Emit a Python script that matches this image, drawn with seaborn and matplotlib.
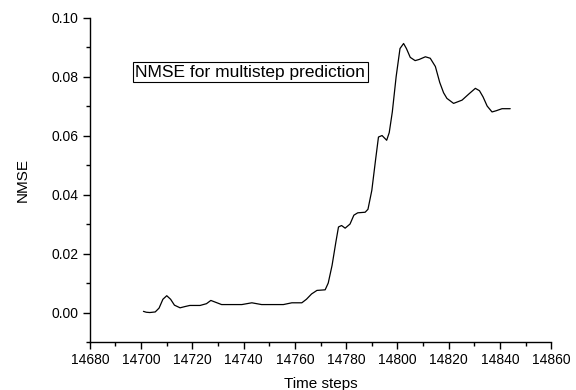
import matplotlib
matplotlib.use("Agg")
import matplotlib.pyplot as plt
from matplotlib.ticker import MultipleLocator
import seaborn as sns
import pandas as pd

time_steps = [14700.9, 14702.0, 14703.4, 14705.5, 14707.0, 14708.5, 14710.0, 14711.5,
              14713.0, 14715.2, 14717.0, 14719.0, 14723.0, 14725.5, 14727.2, 14729.0,
              14731.4, 14735.0, 14739.3, 14743.2, 14747.0, 14751.0, 14755.5, 14758.8,
              14762.7, 14764.5, 14766.5, 14768.6, 14771.8, 14773.0, 14774.5, 14776.0,
              14777.0, 14778.2, 14779.6, 14781.5, 14783.0, 14784.5, 14787.4, 14788.5,
              14790.0, 14791.5, 14792.6, 14794.0, 14795.8, 14796.8, 14798.0, 14799.5,
              14801.0, 14802.4, 14803.5, 14805.0, 14806.9, 14808.5, 14810.9, 14812.8,
              14814.8, 14816.5, 14818.0, 14819.3, 14821.9, 14825.2, 14828.0, 14830.4,
              14832.0, 14833.4, 14835.0, 14836.9, 14838.5, 14840.8, 14844.0]
nmse = [0.0004, 0.0001, 0.0000, 0.0002, 0.0015, 0.0045, 0.0057, 0.0045,
        0.0025, 0.0016, 0.0020, 0.0024, 0.0024, 0.0030, 0.0041, 0.0035,
        0.0027, 0.0027, 0.0027, 0.0033, 0.0027, 0.0027, 0.0027, 0.0033,
        0.0033, 0.0045, 0.0063, 0.0075, 0.0077, 0.0100, 0.0160, 0.0240,
        0.0290, 0.0295, 0.0286, 0.0300, 0.0330, 0.0338, 0.0340, 0.0350,
        0.0414, 0.0520, 0.0595, 0.0600, 0.0584, 0.0610, 0.0680, 0.0800,
        0.0895, 0.0912, 0.0895, 0.0865, 0.0854, 0.0858, 0.0867, 0.0862,
        0.0834, 0.0780, 0.0745, 0.0726, 0.0709, 0.0720, 0.0742, 0.0760,
        0.0752, 0.0731, 0.0700, 0.0680, 0.0684, 0.0691, 0.0691]

df = pd.DataFrame({"Time steps": time_steps, "NMSE": nmse})

sns.set_theme(style="ticks")
plt.rcParams["font.family"] = ["Liberation Sans", "DejaVu Sans"]
plt.rcParams["text.color"] = "black"
plt.rcParams["axes.labelcolor"] = "black"

fig = plt.figure(figsize=(5.76, 3.9), dpi=100)
ax = fig.add_axes([0.156, 0.123, 0.801, 0.832])
sns.lineplot(data=df, x="Time steps", y="NMSE", ax=ax, color="black", linewidth=0.9)

ax.set_xlim(14680, 14860)
ax.set_ylim(-0.01, 0.10)
ax.xaxis.set_major_locator(MultipleLocator(20))
ax.xaxis.set_minor_locator(MultipleLocator(10))
ax.yaxis.set_major_locator(MultipleLocator(0.02))
ax.yaxis.set_minor_locator(MultipleLocator(0.01))
ax.yaxis.set_major_formatter(matplotlib.ticker.FormatStrFormatter("%.2f"))
ax.tick_params(which="major", length=5, width=1, labelsize=10, colors="black", pad=3)
ax.tick_params(which="minor", length=3, width=1, colors="black")
for s in ["top", "right"]:
    ax.spines[s].set_visible(False)
for s in ["left", "bottom"]:
    ax.spines[s].set_linewidth(1)
    ax.spines[s].set_color("black")

ax.set_xlabel("Time steps", fontsize=11, labelpad=7, color="black")
ax.set_ylabel("NMSE", fontsize=11, labelpad=16, color="black")

ax.text(14742.5, 0.0815, "NMSE for multistep prediction", fontsize=12.5,
        ha="center", va="center", color="black",
        bbox=dict(boxstyle="square,pad=0.15", facecolor="white", edgecolor="black", linewidth=0.8))

fig.savefig("out.png", dpi=100)
